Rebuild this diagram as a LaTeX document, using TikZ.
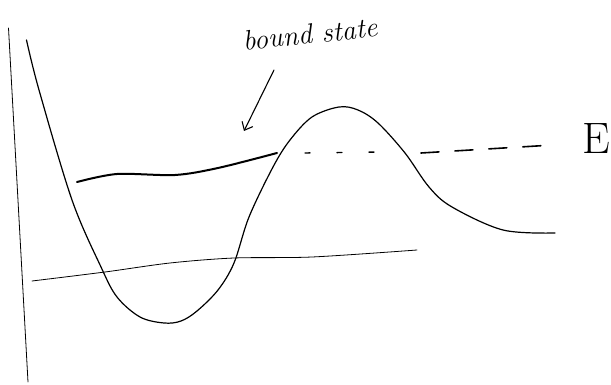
\documentclass[tikz,border=0pt]{standalone}
\usepackage{fontspec}
\usetikzlibrary{arrows.meta}
\begin{document}
\begin{tikzpicture}[x=1pt,y=-1pt,line cap=round,
		curve/.style={line width=1.2pt},
		level/.style={line width=0.8pt}]
	\useasboundingbox (0,0) rectangle (611,385);
	% axis
	\draw[level] (8.5,28) -- (28,382);
	% potential
	\draw[curve] plot[smooth,tension=0.55] coordinates {(26.5,40) (39,90) (72,200) (101,267) (117,297) (140,317) (164,323) (181,321) (197,311) (218,290) (234,263) (249,217) (273,167) (290,140) (312,117) (339,107) (358,110) (378,123) (405,153) (429,187) (452,207) (503,230) (555,233)};
	% bound state
	\draw[line width=2pt] plot[smooth] coordinates {(77,182) (117,174) (175,175) (218,168) (277,153)};
	\draw[line width=1.4pt,dash pattern=on 5pt off 27pt] (305,153) -- (378,152);
	\draw[line width=1.6pt,dash pattern=on 18pt off 16pt] (421,153) -- (553,145);
	% lower level
	\draw[level] plot[smooth] coordinates {(32,281) (105,272) (170,263) (234,258) (312,257) (417,250)};
	% label and arrow
	\node[rotate=6,font=\itshape\fontsize{28}{30}\selectfont] (bound) at (310,34) {bound state};
	\coordinate (tail) at (274,70);
	\coordinate (head) at (244,131);
	\draw[line width=1.1pt,-{Straight Barb[length=7pt,width=12pt]}] (tail) -- (head);
	\node[font=\fontsize{44}{46}\selectfont,inner sep=0pt] (E) at (596,139) {E};
\end{tikzpicture}
\end{document}
